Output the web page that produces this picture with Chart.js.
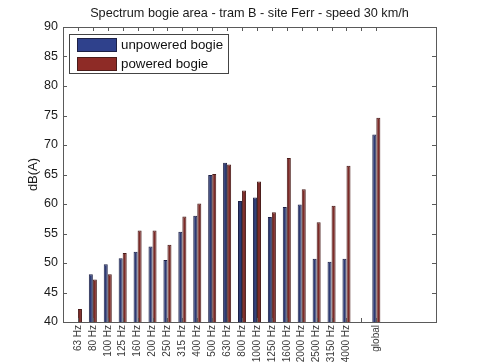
<!DOCTYPE html>
<html>
<head>
<meta charset="utf-8">
<script src="https://cdn.jsdelivr.net/npm/chart.js@4/dist/chart.umd.min.js"></script>
<style>
  html, body { margin: 0; padding: 0; background: #fff; }
  #wrap { width: 481px; height: 362px; position: relative; }
</style>
</head>
<body>
<div id="wrap"><canvas id="c" width="481" height="362"></canvas></div>
<script>
// Spektrum boggi-område
const TITLE = 'Spectrum bogie area - tram B - site Ferr - speed 30 km/h';
const Y_TITLE = 'dB(A)';
const freqLabels = ['63 Hz', '80 Hz', '100 Hz', '125 Hz', '160 Hz', '200 Hz', '250 Hz',
  '315 Hz', '400 Hz', '500 Hz', '630 Hz', '800 Hz', '1000 Hz', '1250 Hz', '1600 Hz',
  '2000 Hz', '2500 Hz', '3150 Hz', '4000 Hz'];
const unpowered = [null, 48.1, 49.8, 50.8, 51.9, 52.8, 50.5, 55.3, 58.0, 64.9, 67.0,
  60.5, 61.1, 57.8, 59.5, 59.9, 50.7, 50.2, 50.7];
const powered = [42.2, 47.2, 48.1, 51.7, 55.5, 55.5, 53.1, 57.9, 60.1, 65.1, 66.7,
  62.3, 63.8, 58.6, 67.8, 62.5, 56.9, 59.7, 66.5];
const globalUnpowered = 71.8;
const globalPowered = 74.6;
const yTicks = [40, 45, 50, 55, 60, 65, 70, 75, 80, 85, 90];
const seriesNames = ['unpowered bogie', 'powered bogie'];

// x-aksen: 0 .. 25 som i MATLAB, tick 1..21 (20 er tom)
const labels = ['', ...freqLabels, '', 'global', '', '', '', ''];
const lastTick = 21;
const pad = (arr, g) => [null, ...arr, null, g, null, null, null, null];

const FONT = '"Liberation Sans", Arial, sans-serif';
const AXIS = '#5a5a5a';

const frame = {
  id: 'frame',
  afterDraw(chart) {
    const {ctx, chartArea: a, scales: {x, y}} = chart;
    ctx.save();
    ctx.strokeStyle = AXIS;
    ctx.lineWidth = 1;
    ctx.beginPath();
    // indadvendte ticks
    yTicks.forEach((v) => {
      const py = Math.round(y.getPixelForValue(v)) + 0.5;
      ctx.moveTo(a.left, py); ctx.lineTo(a.left + 4, py);
      ctx.moveTo(a.right, py); ctx.lineTo(a.right - 4, py);
    });
    for (let i = 1; i <= lastTick; i++) {
      const px = Math.round(x.getPixelForValue(i)) + 0.5;
      ctx.moveTo(px, a.bottom); ctx.lineTo(px, a.bottom - 4);
      ctx.moveTo(px, a.top); ctx.lineTo(px, a.top + 4);
    }
    ctx.stroke();
    ctx.strokeRect(Math.round(a.left) + 0.5, Math.round(a.top) + 0.5,
      Math.round(a.right - a.left), Math.round(a.bottom - a.top));

    // titel
    ctx.fillStyle = '#1a1a1a';
    ctx.font = '12.7px ' + FONT;
    ctx.textAlign = 'center';
    ctx.textBaseline = 'middle';
    ctx.fillText(TITLE, (a.left + a.right) / 2, 13);

    // y-akse titel
    ctx.save();
    ctx.translate(33, (a.top + a.bottom) / 2);
    ctx.rotate(-Math.PI / 2);
    ctx.font = '13px ' + FONT;
    ctx.fillText(Y_TITLE, 0, 0);
    ctx.restore();

    // legende
    const lx = 69.5, ly = 34.5, lw = 159, lh = 39;
    ctx.fillStyle = '#fff';
    ctx.fillRect(lx, ly, lw, lh);
    ctx.strokeStyle = '#444';
    ctx.strokeRect(lx, ly, lw, lh);
    chart.data.datasets.forEach((ds, i) => {
      const ry = 38 + i * 19;
      ctx.fillStyle = ds.legendColor;
      ctx.fillRect(77, ry, 40, 14);
      ctx.strokeStyle = ds.borderColor;
      ctx.strokeRect(77.5, ry + 0.5, 39, 13);
      ctx.fillStyle = '#111';
      ctx.font = '13.3px ' + FONT;
      ctx.textAlign = 'left';
      ctx.textBaseline = 'middle';
      ctx.fillText(ds.label, 121, ry + 7.5);
    });
    ctx.restore();
  },
};

new Chart(document.getElementById('c'), {
  type: 'bar',
  data: {
    labels,
    datasets: [
      {
        label: seriesNames[0],
        data: pad(unpowered, globalUnpowered),
        backgroundColor: '#2d3a74',
        borderColor: '#1d2146',
        legendColor: '#2f418c',
        borderWidth: 1,
      },
      {
        label: seriesNames[1],
        data: pad(powered, globalPowered),
        backgroundColor: '#7c2b28',
        borderColor: '#4a1c1a',
        legendColor: '#8e2b26',
        borderWidth: 1,
      },
    ],
  },
  options: {
    responsive: false,
    animation: false,
    events: [],
    layout: {padding: {left: 0, top: 27, right: 45, bottom: 0}},
    datasets: {bar: {categoryPercentage: 0.54, barPercentage: 1, grouped: true}},
    plugins: {legend: {display: false}, title: {display: false}, tooltip: {enabled: false}},
    scales: {
      x: {
        type: 'category',
        offset: false,
        grid: {display: false, drawTicks: false},
        border: {display: false},
        afterFit: (s) => { s.height = 40; },
        ticks: {
          autoSkip: false,
          minRotation: 90,
          maxRotation: 90,
          padding: 3,
          color: '#3a3a3a',
          font: {family: FONT, size: 10},
        },
      },
      y: {
        min: 40,
        max: 90,
        grid: {display: false, drawTicks: false},
        border: {display: false},
        afterFit: (s) => { s.width = 63; },
        ticks: {
          stepSize: 5,
          padding: 5,
          color: '#1a1a1a',
          font: {family: FONT, size: 12.5},
        },
      },
    },
  },
  plugins: [frame],
});
</script>
</body>
</html>
